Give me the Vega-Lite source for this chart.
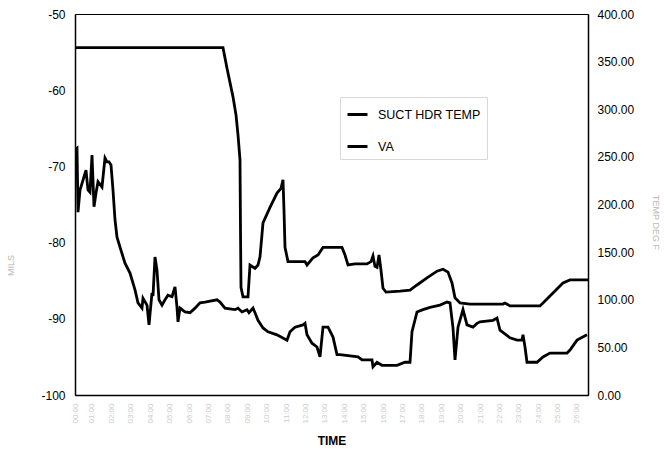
{
  "$schema": "https://vega.github.io/schema/vega-lite/v6.json",
  "width": 513,
  "height": 381,
  "autosize": {"type": "none"},
  "padding": {"left": 75, "top": 14, "right": 76, "bottom": 54},
  "background": "white",
  "config": {
    "font": "Liberation Sans",
    "view": {"stroke": "black", "strokeWidth": 1},
    "axis": {"grid": false, "domainColor": "black", "labelColor": "black", "labelFont": "Liberation Sans", "titleFont": "Liberation Sans"}
  },
  "datasets": {
    "temp": [
      {"t": 0, "v": 364.7}, {"t": 148, "v": 364.7}, {"t": 152, "v": 343}, {"t": 158, "v": 313}, {"t": 161, "v": 294},
      {"t": 163, "v": 273}, {"t": 165, "v": 247}, {"t": 165.5, "v": 173}, {"t": 166, "v": 113}, {"t": 168, "v": 103},
      {"t": 173, "v": 103}, {"t": 175, "v": 136.5}, {"t": 180, "v": 133}, {"t": 183, "v": 136.5}, {"t": 185, "v": 145},
      {"t": 188, "v": 180.6}, {"t": 195, "v": 197}, {"t": 202, "v": 212}, {"t": 206, "v": 217}, {"t": 208, "v": 226},
      {"t": 209, "v": 194}, {"t": 210, "v": 155}, {"t": 213, "v": 140}, {"t": 218, "v": 140}, {"t": 230, "v": 140},
      {"t": 232, "v": 136.5}, {"t": 238, "v": 144}, {"t": 243, "v": 147}, {"t": 248, "v": 155}, {"t": 267, "v": 155},
      {"t": 270, "v": 147}, {"t": 273, "v": 136.5}, {"t": 280, "v": 137.6}, {"t": 292, "v": 137.6}, {"t": 296, "v": 140},
      {"t": 298, "v": 146}, {"t": 300, "v": 135}, {"t": 302, "v": 134}, {"t": 304, "v": 147}, {"t": 306, "v": 131},
      {"t": 308, "v": 112}, {"t": 311, "v": 108}, {"t": 325, "v": 109}, {"t": 335, "v": 110}, {"t": 342, "v": 115.5},
      {"t": 352, "v": 123}, {"t": 362, "v": 130}, {"t": 368, "v": 132}, {"t": 373, "v": 129}, {"t": 377, "v": 117.6},
      {"t": 380, "v": 102}, {"t": 385, "v": 96.6}, {"t": 395, "v": 95.5}, {"t": 428, "v": 95.5}, {"t": 430, "v": 96.6},
      {"t": 435, "v": 93.5}, {"t": 465, "v": 93.5}, {"t": 468, "v": 96.6}, {"t": 488, "v": 117.6}, {"t": 495, "v": 120.8},
      {"t": 513, "v": 120.8}
    ],
    "va": [
      {"t": 0, "v": -67.8}, {"t": 2, "v": -67.6}, {"t": 3, "v": -76.0}, {"t": 5, "v": -73.1}, {"t": 8, "v": -71.8},
      {"t": 11, "v": -70.5}, {"t": 13, "v": -73.1}, {"t": 15, "v": -73.4}, {"t": 17, "v": -68.5}, {"t": 19, "v": -75.3},
      {"t": 21, "v": -73.5}, {"t": 23, "v": -72.0}, {"t": 27, "v": -72.7}, {"t": 30, "v": -68.9}, {"t": 32, "v": -69.4},
      {"t": 34, "v": -69.4}, {"t": 36, "v": -69.8}, {"t": 38, "v": -73.1}, {"t": 40, "v": -77.0}, {"t": 42, "v": -79.3},
      {"t": 45, "v": -80.6}, {"t": 50, "v": -82.7}, {"t": 55, "v": -84.0}, {"t": 60, "v": -86.2}, {"t": 63, "v": -87.9},
      {"t": 67, "v": -88.6}, {"t": 68, "v": -87.3}, {"t": 72, "v": -88.2}, {"t": 74, "v": -90.8}, {"t": 77, "v": -86.6},
      {"t": 78, "v": -87.0}, {"t": 80, "v": -81.9}, {"t": 82, "v": -83.6}, {"t": 84, "v": -87.5}, {"t": 87, "v": -88.2},
      {"t": 90, "v": -87.5}, {"t": 93, "v": -86.9}, {"t": 97, "v": -87.1}, {"t": 100, "v": -85.8}, {"t": 102, "v": -88.5},
      {"t": 103, "v": -90.4}, {"t": 105, "v": -88.6}, {"t": 110, "v": -89.1}, {"t": 115, "v": -89.2}, {"t": 120, "v": -88.6},
      {"t": 125, "v": -87.9}, {"t": 130, "v": -87.8}, {"t": 142, "v": -87.5}, {"t": 145, "v": -87.8}, {"t": 150, "v": -88.6},
      {"t": 160, "v": -88.8}, {"t": 163, "v": -88.6}, {"t": 167, "v": -89.1}, {"t": 172, "v": -88.8}, {"t": 174, "v": -89.2},
      {"t": 178, "v": -88.6}, {"t": 180, "v": -89.2}, {"t": 183, "v": -90.2}, {"t": 188, "v": -91.2}, {"t": 193, "v": -91.7},
      {"t": 202, "v": -92.1}, {"t": 212, "v": -92.8}, {"t": 215, "v": -91.7}, {"t": 220, "v": -91.1}, {"t": 228, "v": -90.8},
      {"t": 230, "v": -90.6}, {"t": 232, "v": -92.1}, {"t": 237, "v": -93.2}, {"t": 242, "v": -93.7}, {"t": 245, "v": -95.0},
      {"t": 248, "v": -91.1}, {"t": 253, "v": -91.1}, {"t": 258, "v": -92.4}, {"t": 262, "v": -94.7}, {"t": 265, "v": -94.7},
      {"t": 283, "v": -95.0}, {"t": 287, "v": -95.4}, {"t": 297, "v": -95.4}, {"t": 298, "v": -96.3}, {"t": 302, "v": -95.7},
      {"t": 307, "v": -96.1}, {"t": 322, "v": -96.1}, {"t": 330, "v": -95.7}, {"t": 335, "v": -95.7}, {"t": 337, "v": -91.7},
      {"t": 342, "v": -89.1}, {"t": 348, "v": -88.8}, {"t": 355, "v": -88.5}, {"t": 365, "v": -88.2}, {"t": 372, "v": -87.8},
      {"t": 375, "v": -87.9}, {"t": 378, "v": -91.2}, {"t": 380, "v": -95.4}, {"t": 383, "v": -91.1}, {"t": 388, "v": -88.8},
      {"t": 392, "v": -90.8}, {"t": 398, "v": -91.1}, {"t": 402, "v": -90.6}, {"t": 405, "v": -90.4}, {"t": 418, "v": -90.2},
      {"t": 422, "v": -89.9}, {"t": 425, "v": -91.5}, {"t": 435, "v": -92.5}, {"t": 442, "v": -92.8}, {"t": 447, "v": -92.8},
      {"t": 448, "v": -92.1}, {"t": 450, "v": -93.7}, {"t": 452, "v": -95.7}, {"t": 462, "v": -95.7}, {"t": 468, "v": -95.0},
      {"t": 475, "v": -94.5}, {"t": 492, "v": -94.5}, {"t": 495, "v": -94.1}, {"t": 502, "v": -92.8}, {"t": 512, "v": -92.1}
    ]
  },
  "encoding": {
    "x": {
      "field": "t", "type": "quantitative",
      "scale": {"domain": [0, 513], "nice": false, "zero": false},
      "axis": {
        "title": "TIME", "titleFontWeight": "bold", "titleFontSize": 12, "titleY": 45, "titleBaseline": "middle",
        "values": [0, 16, 36, 55, 75, 94, 114, 133, 152, 172, 191, 211, 230, 249, 269, 288, 308, 327, 346, 366, 385, 405, 424, 443, 463, 482, 501],
        "labelExpr": "format(round((datum.value + 3) / 19.42), '02d') + ':00'",
        "labelColor": "#cccccc", "labelFontSize": 8, "labelAngle": -90, "labelAlign": "right", "labelBaseline": "middle",
        "labelPadding": 8, "ticks": false, "labelFlush": false, "labelOverlap": false, "labelSeparation": 0, "domainWidth": 1.5
      }
    }
  },
  "layer": [
    {
      "data": {"name": "va"},
      "mark": {"type": "line", "stroke": "black", "strokeWidth": 2.8, "clip": true},
      "encoding": {
        "y": {
          "field": "v", "type": "quantitative",
          "scale": {"domain": [-100, -50], "nice": false, "zero": false},
          "axis": {
            "orient": "left", "values": [-100, -90, -80, -70, -60, -50], "ticks": false, "labelPadding": 10,
            "labelExpr": "replace(datum.label, '\u2212', '-')",
            "labelFontSize": 12, "title": "MILS", "titleColor": "#b8b8b8", "titleFontSize": 9, "titleFontWeight": "normal",
            "titleX": -65, "titleY": 251, "titleAngle": -90, "titleAlign": "center", "titleBaseline": "middle", "domainWidth": 1.5
          }
        },
        "color": {
          "datum": "VA",
          "scale": {"domain": ["SUCT HDR TEMP", "VA"], "range": ["black", "black"]},
          "legend": {
            "orient": "none", "legendX": 265, "legendY": 83, "title": null,
            "symbolType": "stroke", "symbolStrokeWidth": 3, "symbolSize": 400, "symbolStrokeColor": "black",
            "labelFontSize": 12.5, "labelFont": "Liberation Sans", "labelColor": "black", "rowPadding": 14,
            "padding": 6, "strokeColor": "#d8d8d8", "labelOffset": 9
          }
        }
      }
    },
    {
      "data": {"name": "temp"},
      "mark": {"type": "line", "stroke": "black", "strokeWidth": 2.8, "clip": true},
      "encoding": {
        "y": {
          "field": "v", "type": "quantitative",
          "scale": {"domain": [0, 400], "nice": false, "zero": true},
          "axis": {
            "orient": "right", "values": [0, 50, 100, 150, 200, 250, 300, 350, 400], "format": ".2f", "ticks": false,
            "labelPadding": 9, "labelFontSize": 12, "title": "TEMP DEG F", "titleColor": "#b8b8b8", "titleFontSize": 9,
            "titleFontWeight": "normal", "titleX": 67, "titleY": 208, "titleAngle": 90, "titleAlign": "center",
            "titleBaseline": "middle", "domainWidth": 1.5
          }
        },
        "color": {
          "datum": "SUCT HDR TEMP",
          "scale": {"domain": ["SUCT HDR TEMP", "VA"], "range": ["black", "black"]}
        }
      }
    }
  ],
  "resolve": {"scale": {"y": "independent"}}
}
